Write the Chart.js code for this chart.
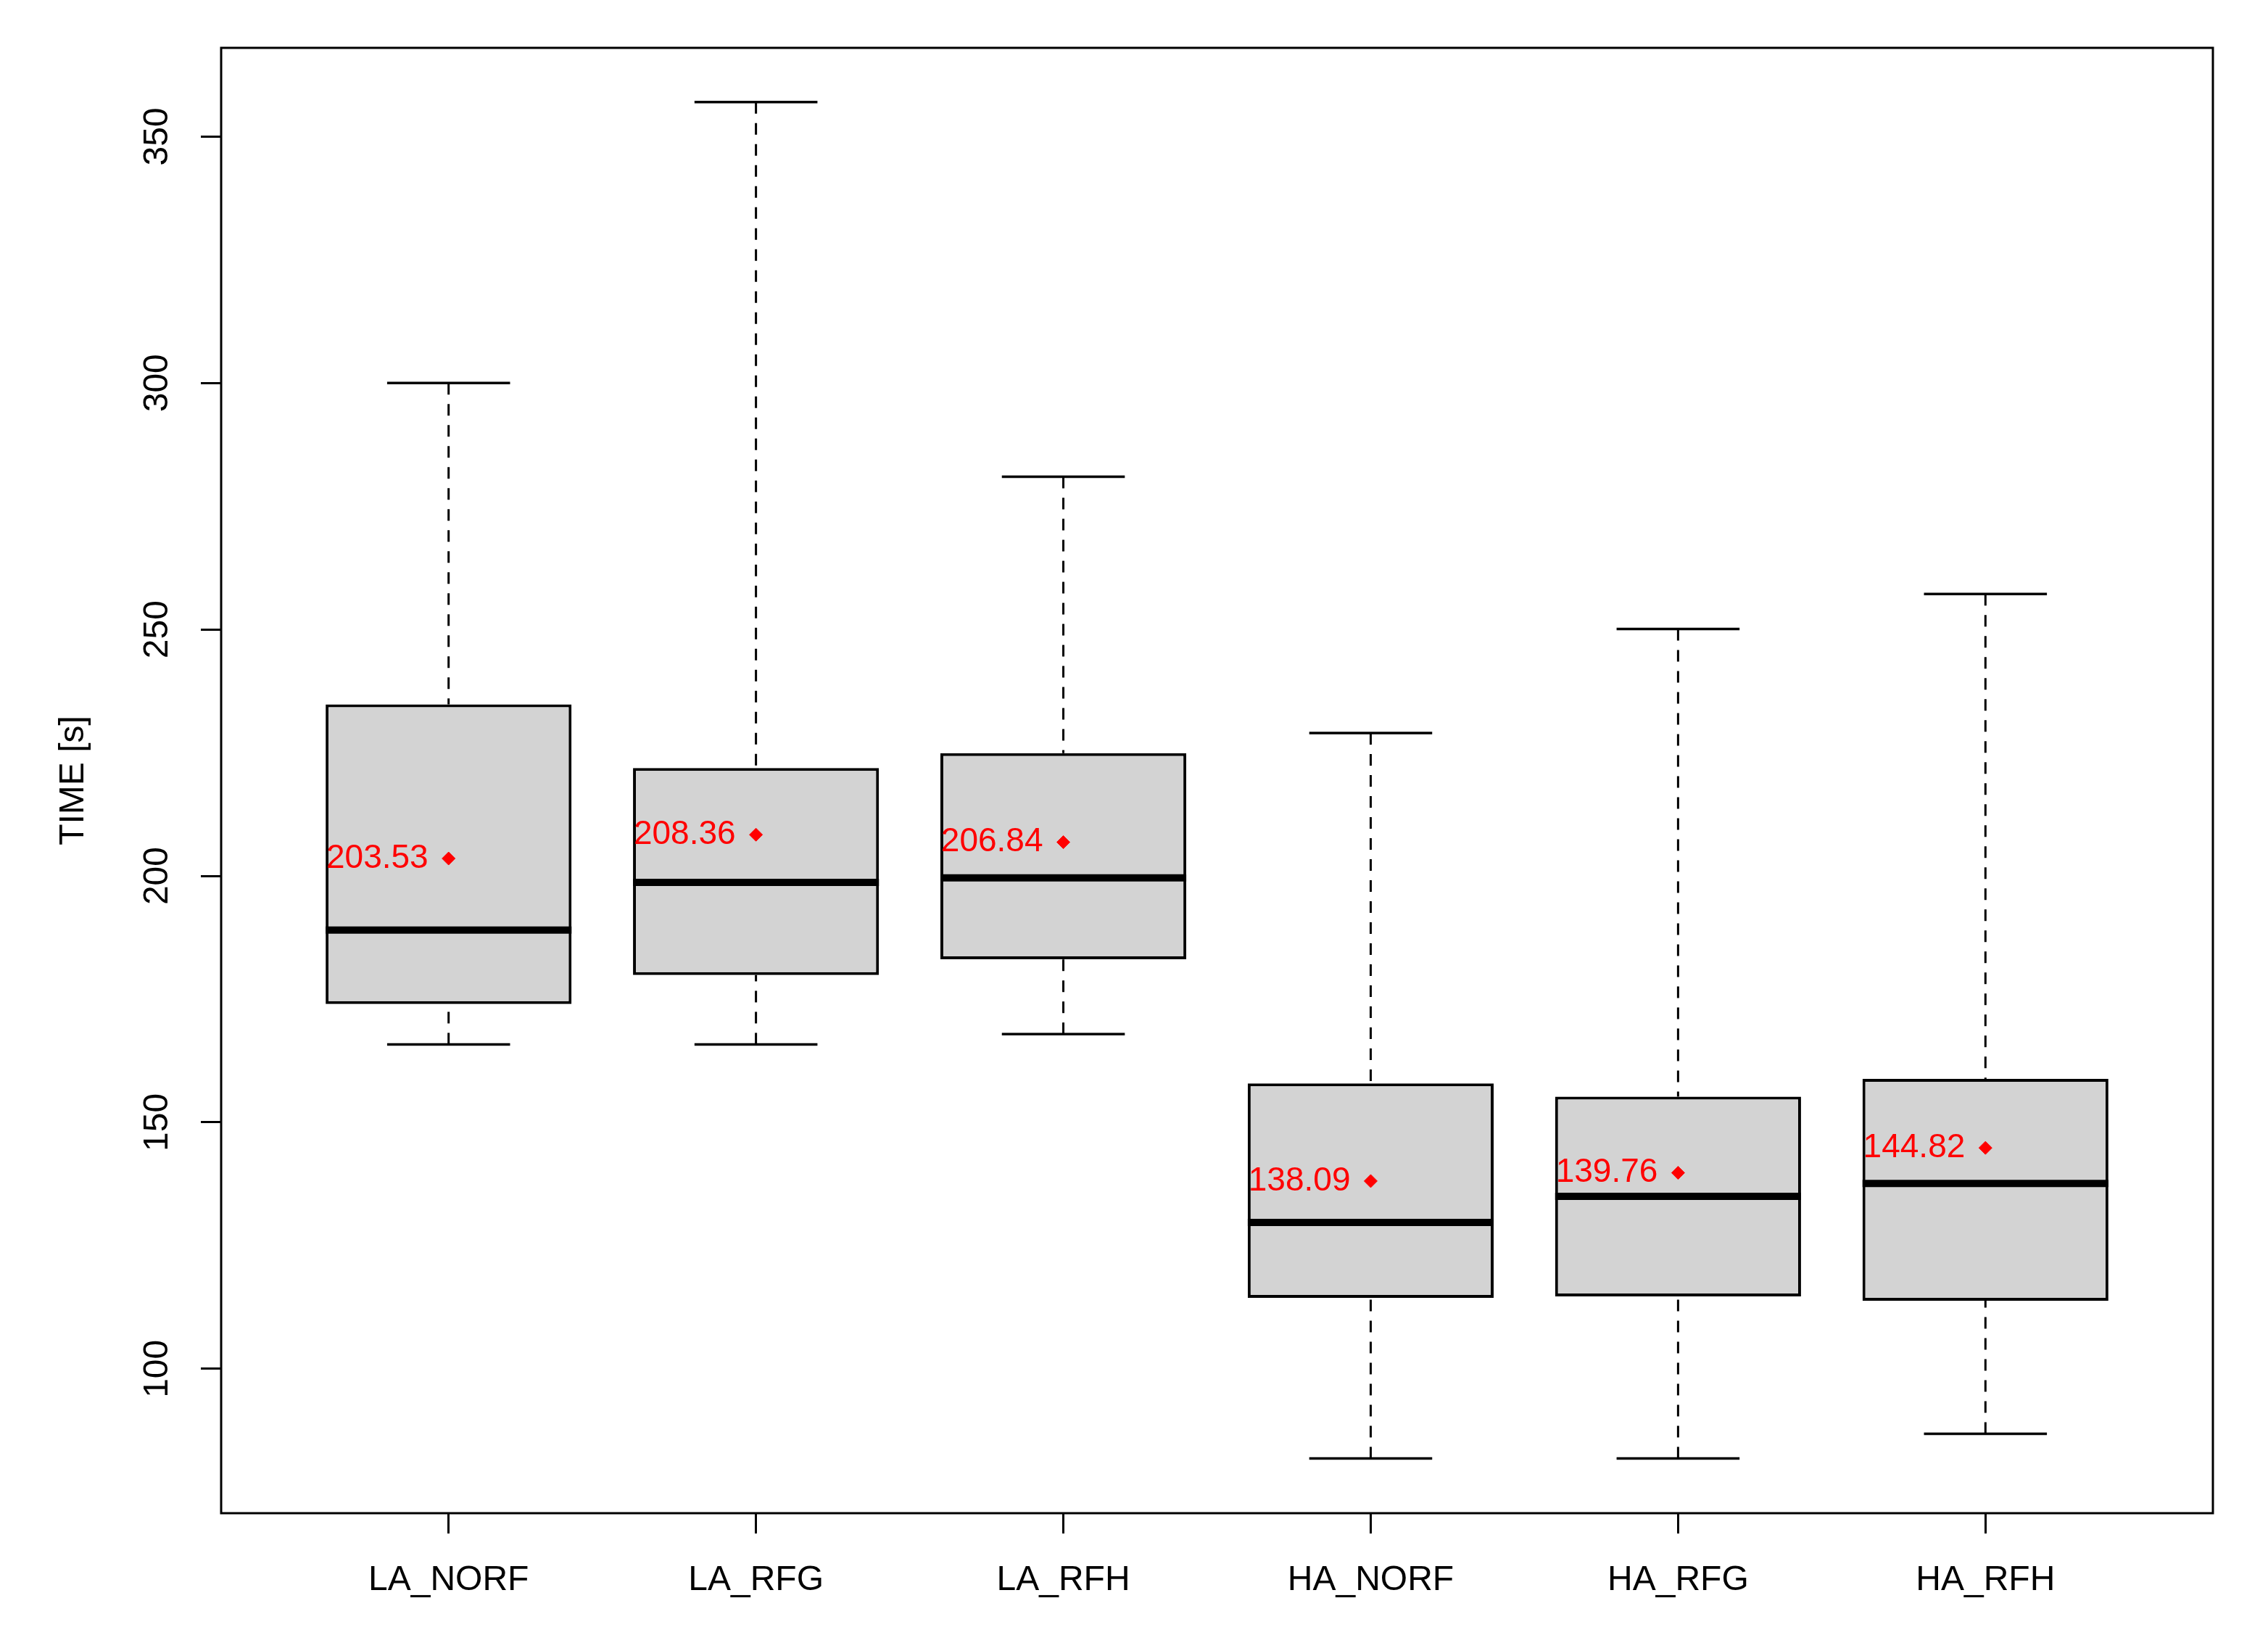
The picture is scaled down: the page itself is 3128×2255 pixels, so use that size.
<!DOCTYPE html>
<html>
<head>
<meta charset="utf-8">
<script src="https://cdn.jsdelivr.net/npm/chart.js@4.4.1/dist/chart.umd.min.js"></script>
<style>
  html, body { margin: 0; padding: 0; background: #fff; }
  #wrap { width: 3128px; height: 2255px; }
</style>
</head>
<body>
<div id="wrap"><canvas id="boxChart" width="3128" height="2255"></canvas></div>
<script>
// Grupos del eje x
const groups = ['LA_NORF', 'LA_RFG', 'LA_RFH', 'HA_NORF', 'HA_RFG', 'HA_RFH'];

// Estadísticos (segundos)
const whiskerLow  = [165.8, 165.8, 167.9, 81.8, 81.8, 86.8];
const quart1      = [174.0, 179.9, 183.1, 114.4, 114.7, 113.8];
const medians     = [189.0, 198.7, 199.6, 129.7, 135.0, 137.6];
const quart3      = [234.8, 221.9, 224.9, 157.9, 155.2, 158.8];
const whiskerHigh = [300.0, 357.0, 281.0, 229.0, 250.1, 257.2];

// Medias (punto rojo con etiqueta)
const means = [203.53, 208.36, 206.84, 138.09, 139.76, 144.82];

// Marcas del eje y
const yTicks = [100, 150, 200, 250, 300, 350];

const FONT = '"Liberation Sans", Arial, sans-serif';

// Bigotes, medianas, marco y etiquetas extra
const boxExtras = {
    id: 'boxExtras',
    beforeDatasetsDraw(chart) {
        const { ctx, scales: { x, y } } = chart;
        ctx.save();
        ctx.strokeStyle = '#000';
        groups.forEach((g, i) => {
            const cx = x.getPixelForValue(i + 1);

            // bigotes discontinuos (desde el extremo hacia la caja)
            ctx.lineWidth = 3;
            ctx.setLineDash([16, 13]);
            ctx.beginPath();
            ctx.moveTo(cx, y.getPixelForValue(whiskerHigh[i]));
            ctx.lineTo(cx, y.getPixelForValue(quart3[i]));
            ctx.stroke();
            ctx.beginPath();
            ctx.moveTo(cx, y.getPixelForValue(whiskerLow[i]));
            ctx.lineTo(cx, y.getPixelForValue(quart1[i]));
            ctx.stroke();
            ctx.setLineDash([]);

            // topes de los bigotes
            const c0 = x.getPixelForValue(i + 1 - 0.2);
            const c1 = x.getPixelForValue(i + 1 + 0.2);
            ctx.lineWidth = 3.5;
            ctx.beginPath();
            ctx.moveTo(c0, y.getPixelForValue(whiskerHigh[i]));
            ctx.lineTo(c1, y.getPixelForValue(whiskerHigh[i]));
            ctx.moveTo(c0, y.getPixelForValue(whiskerLow[i]));
            ctx.lineTo(c1, y.getPixelForValue(whiskerLow[i]));
            ctx.stroke();
        });
        ctx.restore();
    },
    afterDatasetDraw(chart, args) {
        // la mediana va sobre la caja (dataset 0)
        if (args.index !== 0) return;
        const { ctx, scales: { x, y } } = chart;
        ctx.save();
        ctx.strokeStyle = '#000';
        ctx.lineWidth = 10;
        groups.forEach((g, i) => {
            const b0 = x.getPixelForValue(i + 1 - 0.4);
            const b1 = x.getPixelForValue(i + 1 + 0.4);
            ctx.beginPath();
            ctx.moveTo(b0, y.getPixelForValue(medians[i]));
            ctx.lineTo(b1, y.getPixelForValue(medians[i]));
            ctx.stroke();
        });
        ctx.restore();
    },
    afterDatasetsDraw(chart) {
        const { ctx, chartArea, scales: { x, y } } = chart;
        ctx.save();

        // etiqueta de la media
        ctx.fillStyle = '#ff0000';
        ctx.font = '46px ' + FONT;
        ctx.textAlign = 'right';
        ctx.textBaseline = 'middle';
        groups.forEach((g, i) => {
            const cx = x.getPixelForValue(i + 1);
            ctx.fillText(means[i].toFixed(2), cx - 28, y.getPixelForValue(means[i]));
        });

        // marco del área de dibujo
        ctx.strokeStyle = '#000';
        ctx.lineWidth = 3;
        ctx.strokeRect(chartArea.left, chartArea.top,
                       chartArea.right - chartArea.left, chartArea.bottom - chartArea.top);

        // etiquetas del eje y, giradas
        ctx.fillStyle = '#000';
        ctx.font = '48px ' + FONT;
        ctx.textAlign = 'center';
        ctx.textBaseline = 'alphabetic';
        yTicks.forEach(v => {
            ctx.save();
            ctx.translate(chartArea.left - 74, y.getPixelForValue(v));
            ctx.rotate(-Math.PI / 2);
            ctx.fillText(String(v), 0, 0);
            ctx.restore();
        });
        ctx.restore();
    }
};

const ctx = document.getElementById('boxChart').getContext('2d');
new Chart(ctx, {
    type: 'bar',
    data: {
        datasets: [
            {
                type: 'bar',
                label: 'caja',
                order: 1,
                data: groups.map((g, i) => ({ x: i + 1, y: [quart1[i], quart3[i]] })),
                backgroundColor: '#d3d3d3',
                borderColor: '#000',
                borderWidth: 4,
                borderSkipped: false,
                barPercentage: 1.0,
                categoryPercentage: 0.8
            },
            {
                type: 'line',
                label: 'media',
                order: 0,
                data: groups.map((g, i) => ({ x: i + 1, y: means[i] })),
                showLine: false,
                pointStyle: 'rectRot',
                pointRadius: 9,
                pointBackgroundColor: '#ff0000',
                pointBorderColor: '#ff0000',
                pointBorderWidth: 1
            }
        ]
    },
    options: {
        responsive: false,
        animation: false,
        layout: { padding: { left: 0, top: 66, right: 76, bottom: 0 } },
        plugins: {
            legend: { display: false },
            tooltip: { enabled: false }
        },
        scales: {
            x: {
                type: 'linear',
                min: 0.26,
                max: 6.74,
                offset: false,
                afterBuildTicks: s => { s.ticks = groups.map((g, i) => ({ value: i + 1 })); },
                afterFit: s => { s.height = 168; },
                grid: {
                    offset: false,
                    drawOnChartArea: false,
                    drawTicks: true,
                    tickLength: 28,
                    tickWidth: 3,
                    tickColor: '#000'
                },
                border: { display: false },
                ticks: {
                    autoSkip: false,
                    maxRotation: 0,
                    padding: 36,
                    color: '#000',
                    font: { family: FONT, size: 48 },
                    callback: v => groups[v - 1] || ''
                }
            },
            y: {
                type: 'linear',
                min: 70.7,
                max: 368.0,
                afterBuildTicks: s => { s.ticks = yTicks.map(v => ({ value: v })); },
                afterFit: s => { s.width = 305; },
                grid: {
                    drawOnChartArea: false,
                    drawTicks: true,
                    tickLength: 28,
                    tickWidth: 3,
                    tickColor: '#000'
                },
                border: { display: false },
                ticks: { display: false },
                title: {
                    display: true,
                    text: 'TIME [s]',
                    color: '#000',
                    font: { family: FONT, size: 48 },
                    padding: { top: 73, bottom: 0 }
                }
            }
        }
    },
    plugins: [boxExtras]
});
</script>
</body>
</html>
